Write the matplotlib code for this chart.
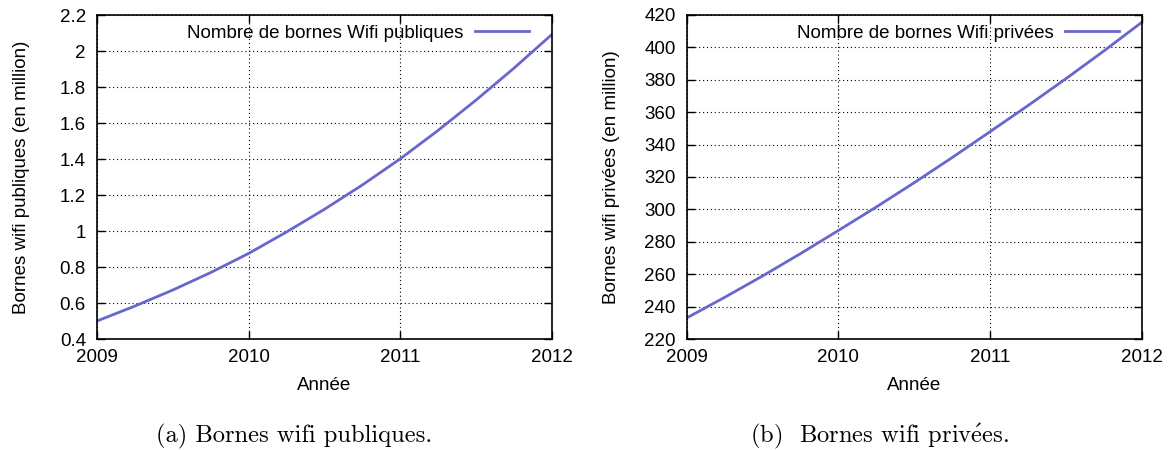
import matplotlib
matplotlib.use("Agg")
import matplotlib.pyplot as plt

years = [2009.00, 2009.25, 2009.50, 2009.75, 2010.00, 2010.25, 2010.50,
         2010.75, 2011.00, 2011.25, 2011.50, 2011.75, 2012.00]
publiques = [0.500, 0.583, 0.672, 0.769, 0.875, 0.994, 1.120,
             1.255, 1.400, 1.558, 1.726, 1.903, 2.090]
privees = [233.0, 245.7, 258.9, 272.7, 287.0, 301.5, 316.5,
           332.0, 348.0, 364.1, 380.7, 397.8, 415.5]

xticks = [2009, 2010, 2011, 2012]
yticks_pub = [0.4, 0.6, 0.8, 1, 1.2, 1.4, 1.6, 1.8, 2, 2.2]
ytick_labels_pub = ["0.4", "0.6", "0.8", "1", "1.2", "1.4", "1.6", "1.8", "2", "2.2"]
yticks_priv = list(range(220, 421, 20))

plt.rcParams['font.family'] = ['Liberation Sans', 'DejaVu Sans']
plt.rcParams['mathtext.fontset'] = 'cm'
color = '#6767cc'
fs = 13.5

W, H = 1168, 450
fig = plt.figure(figsize=(W/100, H/100), dpi=100)
top, bot = 15, 339
L1, R1 = 97, 551.5
L2, R2 = 686.7, 1141.8
ax1 = fig.add_axes([L1/W, 1-bot/H, (R1-L1)/W, (bot-top)/H])
ax2 = fig.add_axes([L2/W, 1-bot/H, (R2-L2)/W, (bot-top)/H])

def style(ax, yticks, ylabels, ylim, ylabel, left, right, ylab_px):
    width_px = right - left
    ax.set_xlim(2009, 2012)
    ax.set_ylim(*ylim)
    ax.set_xticks(xticks)
    ax.set_xticklabels([str(x) for x in xticks], fontsize=fs)
    ax.set_yticks(yticks)
    ax.set_yticklabels(ylabels, fontsize=fs)
    ax.tick_params(direction='in', length=6, width=1, top=True, right=True)
    ax.tick_params(axis='x', pad=7)
    ax.tick_params(axis='y', pad=8)
    ax.grid(True, linestyle=(0, (1, 2.5)), color='black', linewidth=0.8)
    for s in ax.spines.values():
        s.set_linewidth(1.2)
    ax.set_xlabel('Année', fontsize=fs)
    ax.xaxis.set_label_coords(0.5, -(377-bot)/(bot-top))
    ax.set_ylabel(ylabel, fontsize=fs)
    ax.yaxis.set_label_coords((ylab_px + 9.5 - left)/width_px, 0.5)
    anchor_px = right - 22.5 + 7.5
    ax.legend(loc='center right', frameon=False, markerfirst=False, fontsize=fs,
              handlelength=2.88, borderaxespad=0.0, handletextpad=0.64,
              bbox_to_anchor=((anchor_px - left)/width_px, (bot-33)/(bot-top)))

ax1.plot(years, publiques, color=color, linewidth=2.0, label='Nombre de bornes Wifi publiques')
style(ax1, yticks_pub, ytick_labels_pub, (0.4, 2.2), 'Bornes wifi publiques (en million)',
      L1, R1, 20.5)
ax2.plot(years, privees, color=color, linewidth=2.0, label='Nombre de bornes Wifi privées')
style(ax2, yticks_priv, [str(v) for v in yticks_priv], (220, 420), 'Bornes wifi privées (en million)',
      L2, R2, 610)

cap = ['cmr10', 'DejaVu Serif']
fig.text(294/W, 1-436/H, '(a) Bornes wifi publiques.', ha='center', va='center',
         fontsize=17.7, family=cap)
fig.text(880/W, 1-436/H, '(b)  Bornes wifi priv' + r'$\acute{\mathrm{e}}$' + 'es.',
         ha='center', va='center', fontsize=17.7, family=cap)

fig.savefig('out.png', dpi=100)
